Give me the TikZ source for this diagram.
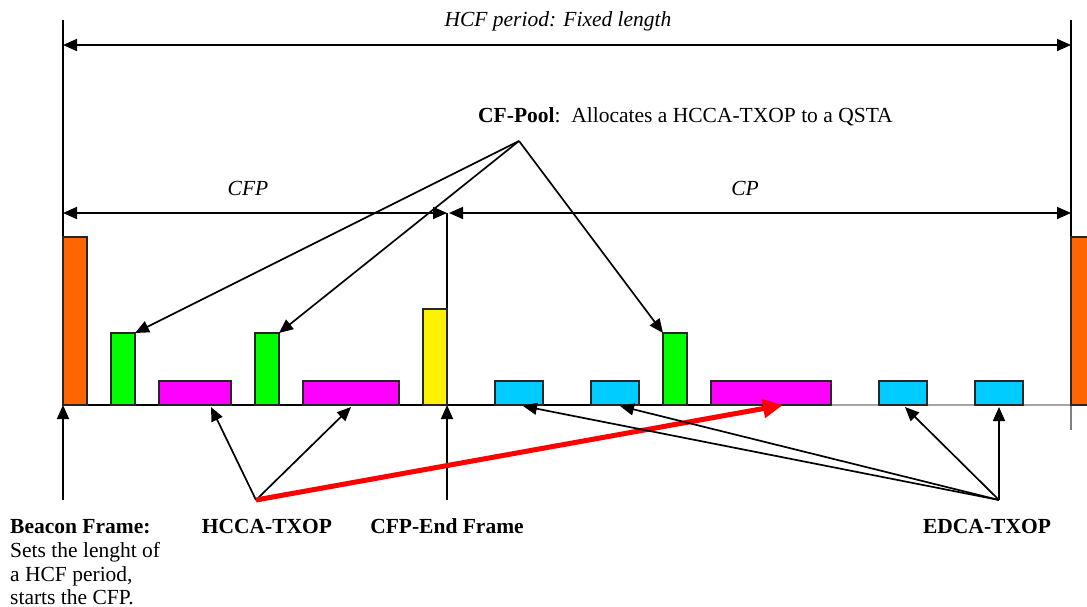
\documentclass[tikz,border=0pt]{standalone}
\usepackage{fontspec}
\setmainfont{Liberation Serif}
\usetikzlibrary{arrows.meta}
\begin{document}
\begin{tikzpicture}[x=1pt,y=-1pt,
  bar/.style={draw=black!85, line width=1.2pt, inner sep=0pt, outer sep=0pt, anchor=south west, minimum width=24pt},
  conn/.style={-{Triangle[length=14pt,width=12pt]}, line width=1.7pt},
  dbl/.style={{Triangle[length=14pt,width=12pt]}-{Triangle[length=14pt,width=12pt]}, line width=1.7pt},
  redconn/.style={-{Triangle[length=20pt,width=18pt]}, line width=5pt, draw=red},
  lbl/.style={font=\fontsize{21.5}{25}\selectfont, inner sep=0pt, anchor=base},
  lblw/.style={font=\fontsize{21.5}{25}\selectfont, inner sep=0pt, anchor=base west}]
\useasboundingbox (0,0) rectangle (1087,607);

% frame lines
\coordinate (L0) at (63,20);
\coordinate (L1) at (63,405);
\coordinate (R0) at (1071,20);
\coordinate (R1) at (1071,405);
\coordinate (R2) at (1071,430);
\coordinate (BL) at (63,405);
\coordinate (BM) at (832,405);
\coordinate (BR) at (1087,405);
\draw[line width=1.7pt] (L0) -- (L1);
\draw[line width=1.7pt] (R0) -- (R1);
\draw[line width=1.7pt, gray] (R1) -- (R2);
\draw[line width=1.7pt] (BL) -- (BM);
\draw[line width=1.7pt, gray!70] (BM) -- (BR);

% period arrows
\coordinate (H0) at (63,45);
\coordinate (H1) at (1071,45);
\coordinate (C0) at (63,213);
\coordinate (C1) at (447,213);
\coordinate (P0) at (449,213);
\coordinate (P1) at (1071,213);
\coordinate (E0) at (447,213);
\coordinate (E1) at (447,310);
\draw[dbl] (H0) -- (H1);
\draw[dbl] (C0) -- (C1);
\draw[dbl] (P0) -- (P1);
\draw[line width=1.7pt] (E0) -- (E1);

\node[lbl] (hcf) at (558,27) {\itshape HCF period: Fixed length};
\node[lbl] (cfp) at (248,195) {\itshape CFP};
\node[lbl] (cp) at (745,195) {\itshape CP};
\node[lblw] (cfpooltxt) at (478,123) {\bfseries CF-Pool\mdseries:\ \ Allocates a HCCA-TXOP to a QSTA};

% bars
\node[bar, fill={rgb,255:red,255;green,102;blue,0}, minimum height=168pt] (or1) at (63,405) {};
\node[bar, fill={rgb,255:red,0;green,255;blue,0}, minimum height=72pt] (g1) at (111,405) {};
\node[bar, fill={rgb,255:red,255;green,0;blue,255}, minimum width=72pt, minimum height=24pt] (m1) at (159,405) {};
\node[bar, fill={rgb,255:red,0;green,255;blue,0}, minimum height=72pt] (g2) at (255,405) {};
\node[bar, fill={rgb,255:red,255;green,0;blue,255}, minimum width=96pt, minimum height=24pt] (m2) at (303,405) {};
\node[bar, fill=yellow, minimum height=96pt] (y1) at (423,405) {};
\node[bar, fill={rgb,255:red,0;green,204;blue,255}, minimum width=48pt, minimum height=24pt] (c1) at (495,405) {};
\node[bar, fill={rgb,255:red,0;green,204;blue,255}, minimum width=48pt, minimum height=24pt] (c2) at (591,405) {};
\node[bar, fill={rgb,255:red,0;green,255;blue,0}, minimum height=72pt] (g3) at (663,405) {};
\node[bar, fill={rgb,255:red,255;green,0;blue,255}, minimum width=120pt, minimum height=24pt] (m3) at (711,405) {};
\node[bar, fill={rgb,255:red,0;green,204;blue,255}, minimum width=48pt, minimum height=24pt] (c3) at (879,405) {};
\node[bar, fill={rgb,255:red,0;green,204;blue,255}, minimum width=48pt, minimum height=24pt] (c4) at (975,405) {};
\node[bar, fill={rgb,255:red,255;green,102;blue,0}, minimum width=18pt, minimum height=168pt] (or2) at (1071,405) {};

% CF-Pool arrows
\coordinate (cfpool) at (519,141);
\draw[conn] (cfpool) -- (g1.north east);
\draw[conn] (cfpool) -- (g2.north east);
\draw[conn] (cfpool) -- (g3.north west);

% bottom arrow sources
\coordinate (beacon) at (63,500);
\coordinate (hcca) at (256,500);
\coordinate (cfpend) at (447,500);
\coordinate (edca) at (999,500);

\coordinate (t1) at (211,407);
\coordinate (t2) at (351,407);
\coordinate (t3) at (783,405);
\coordinate (t4) at (523,406);
\coordinate (t5) at (620,406);
\coordinate (t6) at (905,407);
\coordinate (t7) at (999,407);

\draw[conn] (beacon) -- (L1);
\draw[conn] (cfpend) -- (y1.south east);
\draw[conn] (hcca) -- (t1);
\draw[conn] (hcca) -- (t2);
\draw[redconn] (hcca) -- (t3);
\draw[conn] (edca) -- (t4);
\draw[conn] (edca) -- (t5);
\draw[conn] (edca) -- (t6);
\draw[conn] (edca) -- (t7);

% bottom labels
\node[lblw] (bf1) at (10,533) {\bfseries Beacon Frame:};
\node[lblw] (bf2) at (10,557) {Sets the lenght of};
\node[lblw] (bf3) at (10,581) {a HCF period,};
\node[lblw] (bf4) at (10,604) {starts the CFP.};
\node[lbl] (hccatxt) at (267,533) {\bfseries HCCA-TXOP};
\node[lbl] (cfpendtxt) at (447,533) {\bfseries CFP-End Frame};
\node[lbl] (edcatxt) at (987,533) {\bfseries EDCA-TXOP};
\end{tikzpicture}
\end{document}
